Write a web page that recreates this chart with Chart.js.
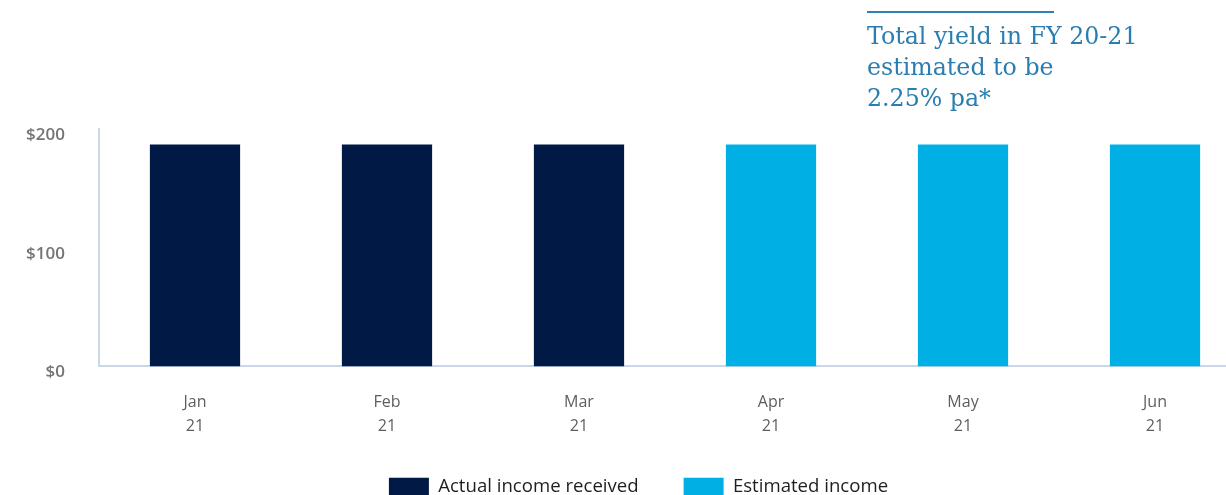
<!DOCTYPE html>
<html>
<head>
<meta charset="utf-8">
<script src="https://cdn.jsdelivr.net/npm/chart.js@4"></script>
<style>
  html, body { margin: 0; padding: 0; background: #fff; overflow: hidden; }
  #wrap { position: relative; width: 1251px; height: 506px; }
  #note {
    position: absolute; left: 867px; top: 11px; width: 187px;
    border-top: 2px solid #2f82b0;
    font-family: "DejaVu Serif", serif; font-size: 23.7px; line-height: 31px;
    color: #2a7db0; white-space: nowrap; padding-top: 8px;
  }
</style>
</head>
<body>
<div id="wrap">
  <canvas id="incomeChart" width="1251" height="506"></canvas>
  <div id="note">Total yield in FY 20-21<br>estimated to be<br>2.25% pa*</div>
</div>
<script>
const months = [["Jan", "21"], ["Feb", "21"], ["Mar", "21"], ["Apr", "21"], ["May", "21"], ["Jun", "21"]];
const actualIncome = [187, 187, 187, null, null, null];
const estimatedIncome = [null, null, null, 187, 187, 187];
const yTicks = [0, 100, 200];

const ctx = document.getElementById("incomeChart").getContext("2d");

new Chart(ctx, {
  type: "bar",
  data: {
    labels: months,
    datasets: [
      {
        label: "Actual income received",
        data: actualIncome,
        backgroundColor: "#001a45",
        barPercentage: 0.47,
        categoryPercentage: 1,
      },
      {
        label: "Estimated income",
        data: estimatedIncome,
        backgroundColor: "#00b0e4",
        barPercentage: 0.47,
        categoryPercentage: 1,
      },
    ],
  },
  options: {
    responsive: false,
    animation: false,
    layout: { padding: { top: 129, right: 0, left: 26, bottom: 0 } },
    plugins: {
      tooltip: { enabled: false },
      legend: {
        position: "bottom",
        labels: {
          boxWidth: 40,
          boxHeight: 18,
          padding: 45,
          color: "#1e1e1e",
          font: { family: "Open Sans", size: 18.6 },
        },
      },
    },
    scales: {
      x: {
        stacked: true,
        afterFit: (scale) => { scale.height = 66; },
        grid: { display: false, drawTicks: false },
        border: { color: "#c9d8e8", width: 2 },
        ticks: {
          padding: 24,
          color: "#5e5e5e",
          font: { family: "Open Sans", size: 16, lineHeight: 1.5 },
        },
      },
      y: {
        stacked: true,
        min: 0,
        max: 200,
        afterFit: (scale) => { scale.width = 73; },
        afterBuildTicks: (scale) => { scale.ticks = yTicks.map((v) => ({ value: v })); },
        grid: { display: false, drawTicks: false },
        border: { color: "#c9d8e8", width: 2 },
        ticks: {
          padding: 34,
          labelOffset: 6,
          color: "#747474",
          font: { family: "Open Sans", size: 17, weight: "600" },
          callback: (v) => "$" + v,
        },
      },
    },
  },
});
</script>
</body>
</html>
